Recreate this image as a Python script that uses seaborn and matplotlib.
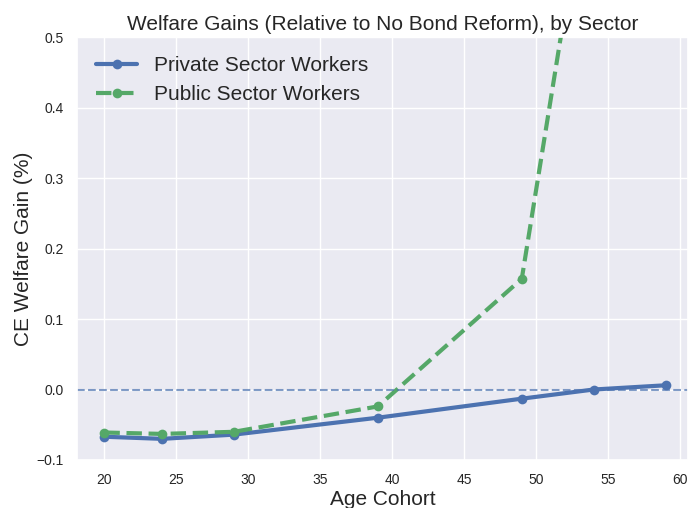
import pandas as pd
import matplotlib
matplotlib.use('Agg')
import matplotlib.pyplot as plt
import seaborn as sns

# Cohortes d'âge et gains de bien-être (en %)
ages = [20, 24, 29, 39, 49, 54, 59]
private_gain = [-0.067, -0.070, -0.064, -0.040, -0.013, 0.000, 0.006]
public_gain = [-0.061, -0.063, -0.060, -0.024, 0.157, 0.79, 1.6]

df = pd.DataFrame({
    'age': ages * 2,
    'gain': private_gain + public_gain,
    'sector': ['Private Sector Workers'] * len(ages) + ['Public Sector Workers'] * len(ages),
})

sns.set_theme(style='darkgrid')
plt.rcParams['font.family'] = ['Liberation Sans', 'DejaVu Sans']

fig = plt.figure(figsize=(6.88, 5.08), dpi=100)
ax = fig.add_axes([0.112, 0.0945, 0.888, 0.8325])

sns.lineplot(data=df[df['sector'] == 'Private Sector Workers'], x='age', y='gain',
             color='#4C72B0', linewidth=3, marker='o', markersize=7, markeredgewidth=0,
             label='Private Sector Workers', ax=ax)
sns.lineplot(data=df[df['sector'] == 'Public Sector Workers'], x='age', y='gain',
             color='#55A868', linewidth=3, linestyle='--', marker='o', markersize=7,
             markeredgewidth=0, label='Public Sector Workers', ax=ax)

ax.axhline(0, color='#4C72B0', linestyle='--', linewidth=1.5, alpha=0.7)

ax.set_xlim(18.1, 60.55)
ax.set_ylim(-0.1, 0.5)
ax.set_xticks([20, 25, 30, 35, 40, 45, 50, 55, 60])
ax.tick_params(labelsize=10, colors='#262626')
ax.set_title('Welfare Gains (Relative to No Bond Reform), by Sector', fontsize=15, color='#262626', pad=5)
ax.set_xlabel('Age Cohort', fontsize=15, color='#262626', labelpad=2)
ax.set_ylabel('CE Welfare Gain (%)', fontsize=15, color='#262626', labelpad=2.5)
ax.legend(loc='upper left', fontsize=15, frameon=False)

fig.savefig('out.png', dpi=100)
